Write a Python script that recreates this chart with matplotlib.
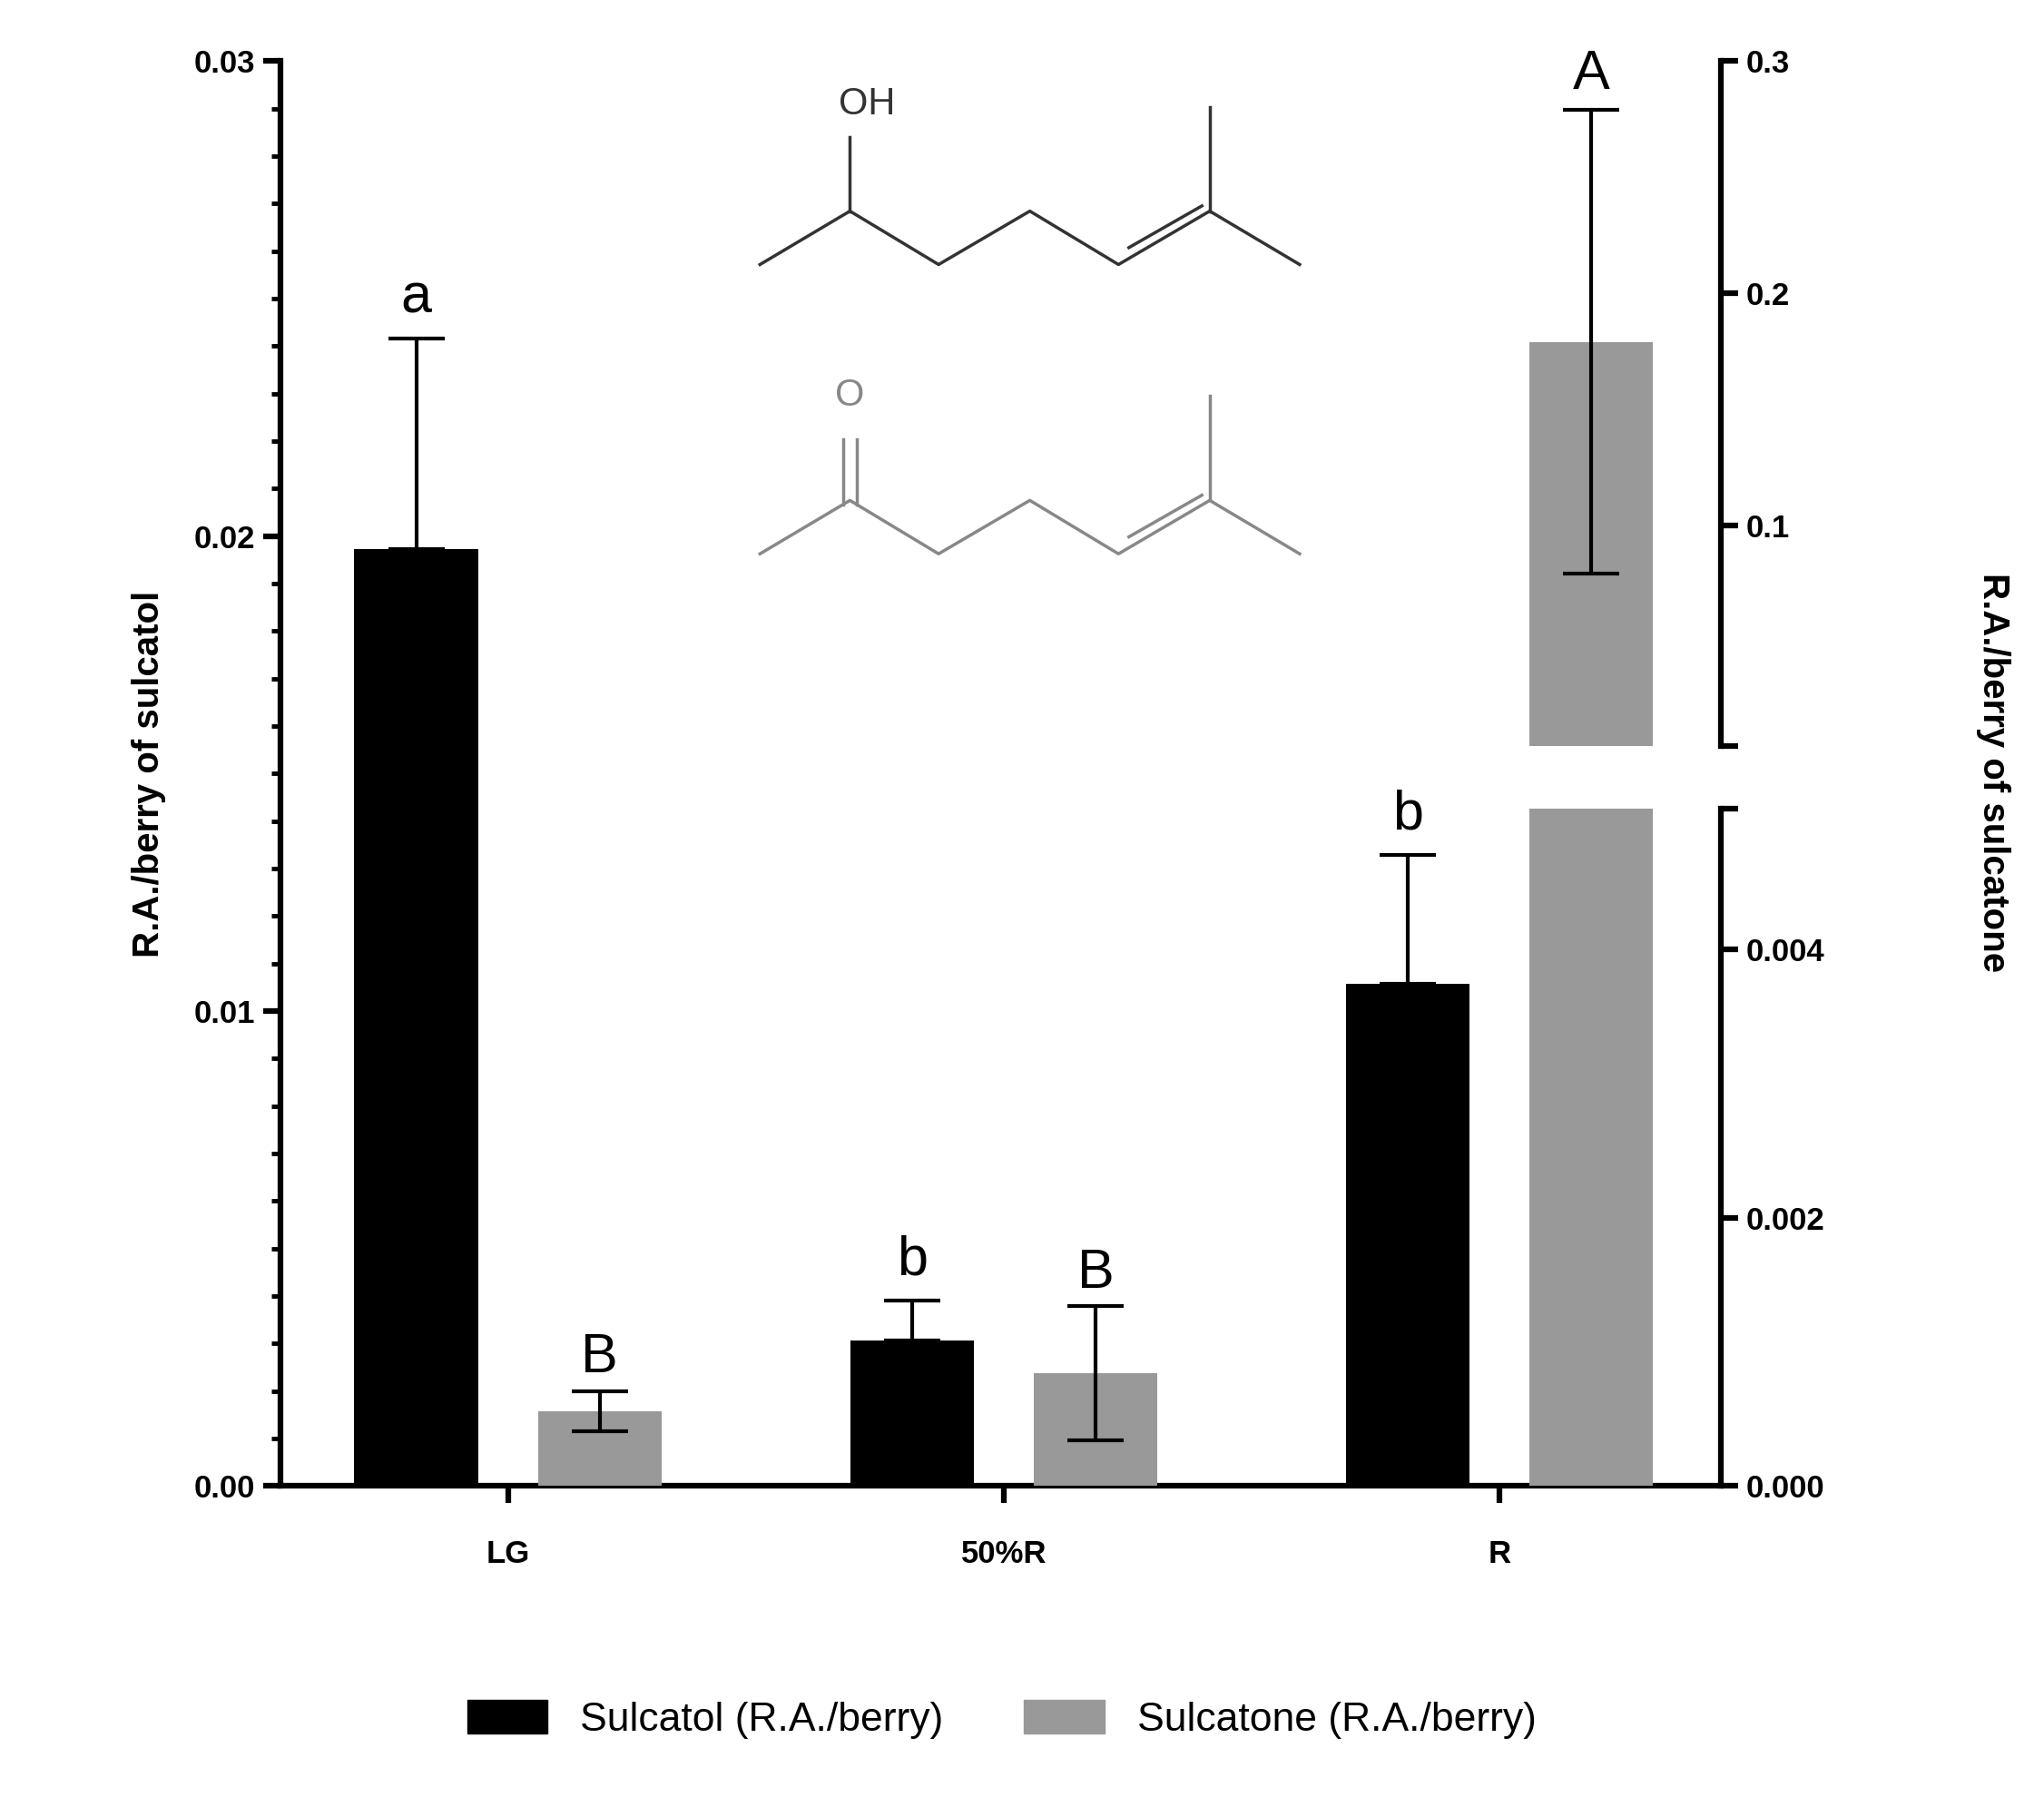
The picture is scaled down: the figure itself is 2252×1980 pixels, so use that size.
import matplotlib
matplotlib.use("Agg")
import matplotlib.pyplot as plt
from matplotlib.lines import Line2D
from matplotlib.patches import Patch
from matplotlib.ticker import MultipleLocator, FuncFormatter
import numpy as np

plt.rcParams['font.family'] = ['Liberation Sans', 'DejaVu Sans']
plt.rcParams['font.weight'] = 'bold'

categories = ["LG", "50%R", "R"]
sulcatol = [0.01973, 0.00307, 0.01057]
sulcatol_err = [0.00442, 0.00083, 0.00271]
sulcatol_letters = ["a", "b", "b"]
sulcatone = [0.00056, 0.00084, 0.179]
sulcatone_err = [0.00015, 0.00050, 0.100]
sulcatone_letters = ["B", "B", "A"]

W, H = 2252, 1980
fig = plt.figure(figsize=(W/100, H/100), dpi=100)
L, R_ = 0.137, 0.842
ax = fig.add_axes([L, 0.173, R_-L, 0.966-0.173])
axl = fig.add_axes([L, 0.173, R_-L, 0.550-0.173])
axu = fig.add_axes([L, 0.585, R_-L, 0.966-0.585])

x = np.arange(len(categories))
off, bw = 0.185, 0.25
xlim = (-0.46, 2.447)
lw = 4.5
grey = '#999999'

ax.bar(x-off, sulcatol, bw, color='black')
ax.errorbar(x-off, sulcatol, yerr=[np.zeros(3), sulcatol_err], fmt='none', ecolor='black',
            elinewidth=3, capsize=22, capthick=3)
ax.set_xlim(*xlim); ax.set_ylim(0, 0.03)
ax.yaxis.set_major_locator(MultipleLocator(0.01))
ax.yaxis.set_minor_locator(MultipleLocator(0.001))
ax.yaxis.set_major_formatter(FuncFormatter(lambda v, p: f"{v:.2f}"))
for s in ['top', 'right']:
    ax.spines[s].set_visible(False)
for s in ['left', 'bottom']:
    ax.spines[s].set_linewidth(lw)
ax.tick_params(axis='y', which='major', length=14, width=lw, labelsize=25, pad=6)
ax.tick_params(axis='y', which='minor', length=7, width=3.5)
ax.set_xticks(x)
ax.set_xticklabels(categories)
ax.tick_params(axis='x', length=14, width=lw, labelsize=25, pad=28)
ax.set_ylabel("R.A./berry of sulcatol", fontsize=29, fontweight='bold', labelpad=22)
for xi, v, e, t in zip(x-off, sulcatol, sulcatol_err, sulcatol_letters):
    ax.text(xi, v+e+0.0003, t, ha='center', va='bottom', fontsize=44, fontweight='normal')

for a in (axl, axu):
    a.patch.set_visible(False)
    a.set_xlim(*xlim)
    a.set_xticks([])
    for s in ['top', 'left', 'bottom']:
        a.spines[s].set_visible(False)
    a.spines['right'].set_linewidth(lw)
    a.yaxis.tick_right()
    a.tick_params(axis='y', which='major', length=14, width=lw, labelsize=25, pad=6)
    a.tick_params(axis='y', which='minor', length=7, width=3.5)

axl.set_ylim(0, 0.00505)
axl.yaxis.set_major_locator(MultipleLocator(0.002))
axl.yaxis.set_major_formatter(FuncFormatter(lambda v, p: f"{v:.3f}"))
axu.set_ylim(0.005, 0.3)
axu.set_yticks([0.1, 0.2, 0.3])
axu.yaxis.set_major_formatter(FuncFormatter(lambda v, p: f"{v:.1f}"))
axl.plot([1, 1.012], [1, 1], transform=axl.transAxes, color='black', lw=lw, clip_on=False, solid_capstyle='butt')
axu.plot([1, 1.012], [0, 0], transform=axu.transAxes, color='black', lw=lw, clip_on=False, solid_capstyle='butt')

axl.bar(x+off, sulcatone, bw, color=grey)
axu.bar(x+off, sulcatone, bw, color=grey)
for i in range(3):
    a = axu if sulcatone[i] > 0.00505 else axl
    a.errorbar(x[i]+off, sulcatone[i], yerr=sulcatone_err[i], fmt='none', ecolor='black',
               elinewidth=3, capsize=22, capthick=3)
    pad = 0.004 if a is axu else 0.00005
    a.text(x[i]+off, sulcatone[i]+sulcatone_err[i]+pad, sulcatone_letters[i], ha='center',
           va='bottom', fontsize=44, fontweight='normal')
fig.text(0.975, 0.57, "R.A./berry of sulcatone", rotation=270, ha='center', va='center',
         fontsize=29, fontweight='bold')

def fx(px): return px/1568
def fy(py): return 1-py/1379
def mol(dy, col, carbonyl):
    pts = [(583,203),(652,162),(720,203),(790,162),(858,203),(928,162),(997,203)]
    xs = [fx(p[0]) for p in pts]; ys = [fy(p[1]+dy) for p in pts]
    fig.add_artist(Line2D(xs, ys, color=col, lw=2.5))
    fig.add_artist(Line2D([fx(928), fx(928)], [fy(162+dy), fy(82+dy)], color=col, lw=2.5))
    fig.add_artist(Line2D([fx(866), fx(922)], [fy(190+dy), fy(158+dy)], color=col, lw=2.5))
    if carbonyl:
        fig.add_artist(Line2D([fx(647), fx(647)], [fy(165+dy), fy(115+dy)], color=col, lw=2.5))
        fig.add_artist(Line2D([fx(657), fx(657)], [fy(165+dy), fy(115+dy)], color=col, lw=2.5))
        fig.text(fx(652), fy(82+dy), "O", color=col, ha='center', va='center', fontsize=30, fontweight='normal')
    else:
        fig.add_artist(Line2D([fx(652), fx(652)], [fy(162+dy), fy(105+dy)], color=col, lw=2.5))
        fig.text(fx(665), fy(80+dy), "OH", color=col, ha='center', va='center', fontsize=30, fontweight='normal')
mol(0, '#333333', False)
mol(222, '#888888', True)

handles = [Patch(color='black', label='Sulcatol (R.A./berry)'),
           Patch(color=grey, label='Sulcatone (R.A./berry)')]
fig.legend(handles=handles, loc='center', bbox_to_anchor=(0.49, 0.043), ncol=2, frameon=False,
           prop={'size': 32, 'weight': 'normal'}, handlelength=2.0, handleheight=0.9, columnspacing=2.0)
fig.savefig("out.png", dpi=100)
